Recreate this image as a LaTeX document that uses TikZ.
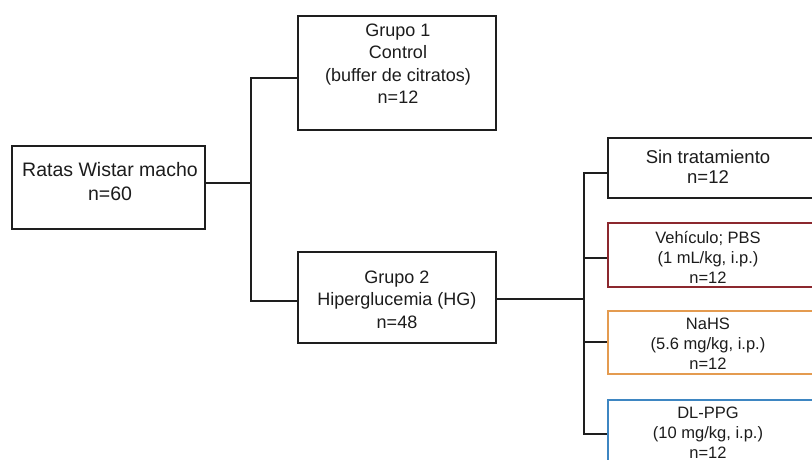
\documentclass[tikz,border=0pt]{standalone}
\usepackage{fontspec}
\setmainfont{Liberation Sans}
\definecolor{linec}{RGB}{30,30,30}
\definecolor{textc}{RGB}{28,28,28}
\definecolor{redc}{RGB}{140,40,46}
\definecolor{orangec}{RGB}{228,155,80}
\definecolor{bluec}{RGB}{62,134,194}
\begin{document}
\begin{tikzpicture}[x=1pt,y=-1pt,
  box/.style={draw=linec, line width=2pt, rectangle, inner sep=0pt},
  txt/.style={align=center, text=textc, inner sep=0pt, font=\fontsize{18}{22.5}\selectfont},
  bigtxt/.style={align=center, text=textc, inner sep=0pt, font=\fontsize{19.5}{24}\selectfont},
  rtxt/.style={align=center, text=textc, inner sep=0pt, font=\fontsize{16.5}{20}\selectfont},
  r1txt/.style={align=center, text=textc, inner sep=0pt, font=\fontsize{18.5}{20.5}\selectfont},
  conn/.style={draw=linec, line width=2.2pt}]
\useasboundingbox (0,0) rectangle (812,460);
\fill[white] (0,0) rectangle (812,460);
% boxes
\node[box, minimum width=193pt, minimum height=83pt] (ratas) at (108.5,187.5) {};
\node[box, minimum width=198pt, minimum height=114pt] (g1) at (397,73) {};
\node[box, minimum width=198pt, minimum height=91pt] (g2) at (397,297.5) {};
\node[box, minimum width=222pt, minimum height=60pt] (r1) at (719,168) {};
\node[box, draw=redc, minimum width=222pt, minimum height=64pt] (r2) at (719,255) {};
\node[box, draw=orangec, minimum width=222pt, minimum height=63pt] (r3) at (719,342.5) {};
\node[box, draw=bluec, minimum width=222pt, minimum height=67pt] (r4) at (719,433.5) {};
% texts
\node[bigtxt] (ratast) at (110,182) {Ratas Wistar macho\\n=60};
\node[txt] (g1t) at (398,63.5) {Grupo 1\\Control\\(buffer de citratos)\\n=12};
\node[txt] (g2t) at (397,299.5) {Grupo 2\\Hiperglucemia (HG)\\n=48};
\node[r1txt] (r1t) at (708,167) {Sin tratamiento\\n=12};
\node[rtxt] (r2t) at (708,257.5) {Vehículo; PBS\\(1 mL/kg, i.p.)\\n=12};
\node[rtxt] (r3t) at (708,344) {NaHS\\(5.6 mg/kg, i.p.)\\n=12};
\node[rtxt] (r4t) at (708,433) {DL-PPG\\(10 mg/kg, i.p.)\\n=12};
% connectors left
\coordinate (j0) at (251,183);
\coordinate (j1) at (251,78);
\coordinate (j2) at (251,301);
\draw[conn] (ratas.east |- j0) -- (j0);
\draw[conn] (g1.west |- j1) -- (j1) -- (j2) -- (g2.west |- j2);
% connectors right
\coordinate (k0) at (584,299);
\coordinate (k1) at (584,173);
\coordinate (k2) at (584,258);
\coordinate (k3) at (584,342);
\coordinate (k4) at (584,434);
\draw[conn] (g2.east |- k0) -- (k0);
\draw[conn] (r1.west |- k1) -- (k1) -- (k4) -- (r4.west |- k4);
\draw[conn] (k2) -- (r2.west |- k2);
\draw[conn] (k3) -- (r3.west |- k3);
\end{tikzpicture}
\end{document}
